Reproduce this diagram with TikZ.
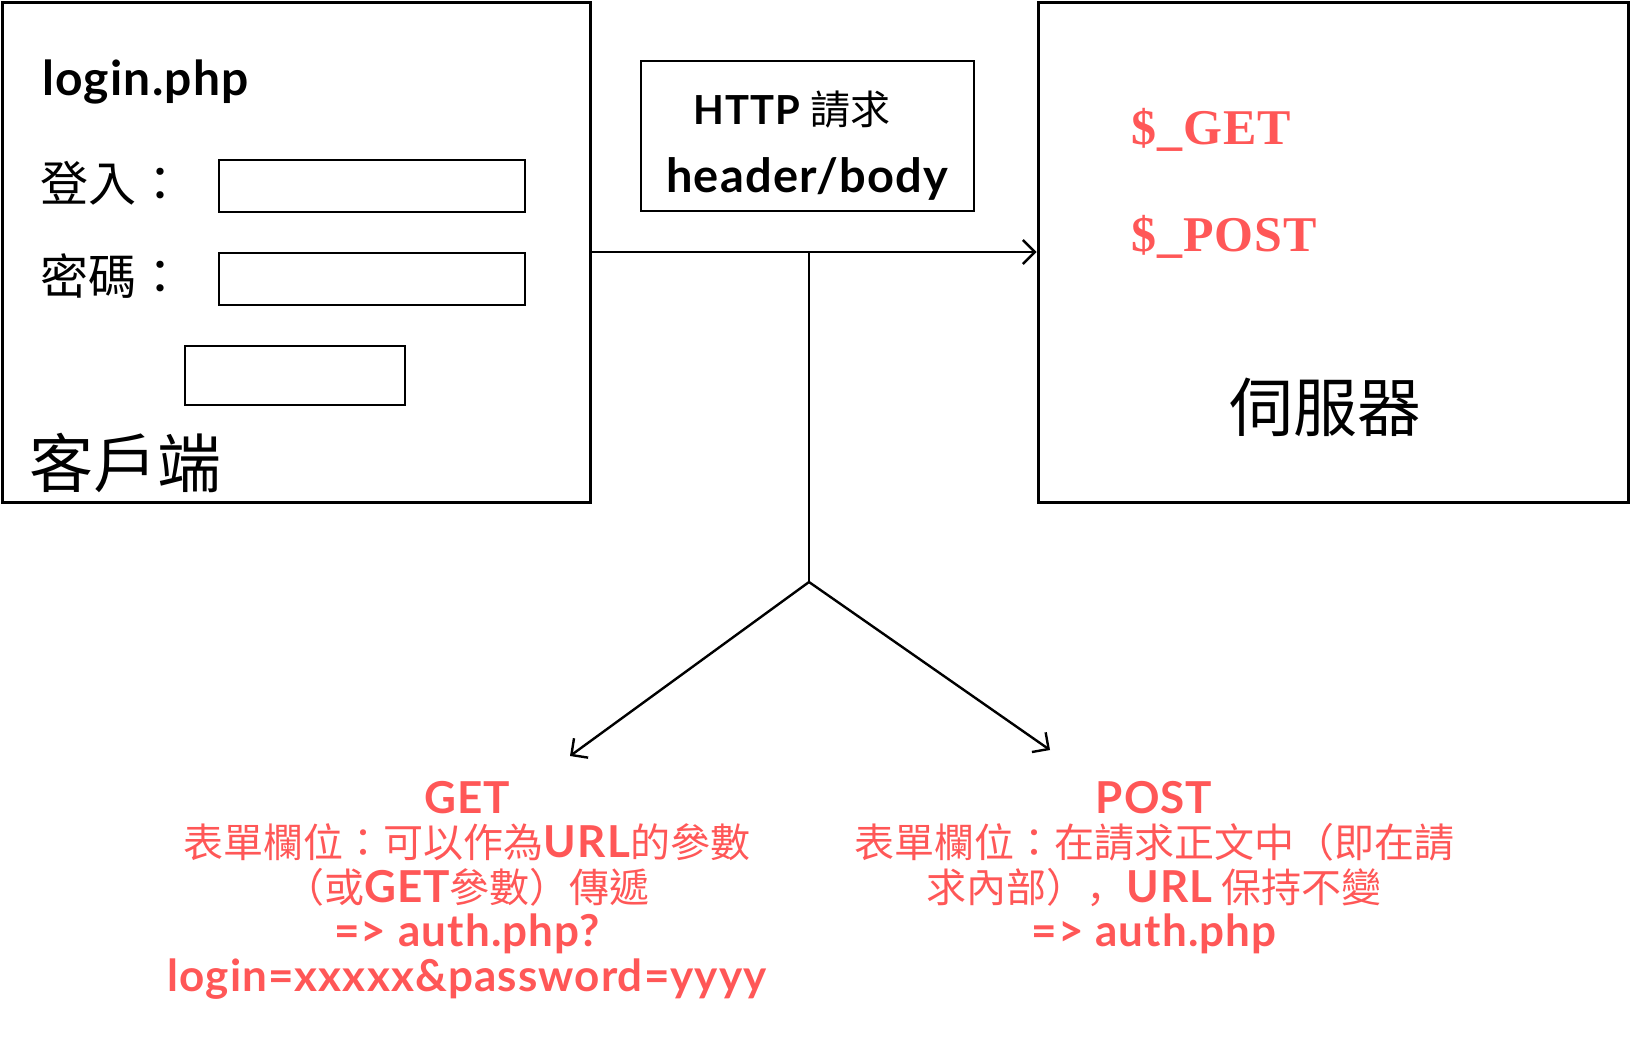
\documentclass[tikz,border=0pt]{standalone}
\usepackage{fontspec}
\setmainfont{Lato}[LetterSpace=2.5]
\newfontfamily\cjk{Noto Sans CJK TC}
\newfontfamily\cjkcomma{Noto Sans CJK SC}
\newfontfamily\serifbold{Liberation Serif}[LetterSpace=2]
\usepackage{tikz}
\usetikzlibrary{arrows.meta}
\definecolor{phpred}{RGB}{255,87,87}
\newcommand{\latb}[1]{{\normalfont\bfseries\fontsize{44}{44.5}\selectfont #1}}

\begin{document}
\begin{tikzpicture}[x=1pt, y=-1pt,
    panel/.style={draw, line width=3pt, minimum width=#1, minimum height=500pt, inner sep=0pt},
    field/.style={draw, line width=2.4pt, inner sep=0pt},
    formtext/.style={font=\cjk\fontsize{48}{50}\selectfont, inner sep=0pt},
    bigtext/.style={font=\cjk\fontsize{64}{66}\selectfont, inner sep=0pt},
    vartext/.style={font=\serifbold\bfseries\fontsize{50}{52}\selectfont, text=phpred, inner sep=0pt, anchor=west},
    note/.style={font=\cjk\fontsize{40}{44.5}\selectfont, text=phpred, align=center, inner sep=0pt, anchor=north},
    conn/.style={line width=2.4pt, -{Straight Barb[length=12pt, width=24pt, line width=2.4pt]}},
    trunk/.style={line width=2.4pt}]
    \useasboundingbox (0,0) rectangle (1630,1055);

    % Client (login form)
    \node[panel=588pt] (client) at (296,252) {};
    \node[font=\bfseries\fontsize{48}{50}\selectfont, inner sep=0pt, anchor=base west] (pagename) at (42,95) {login.php};
    \node[formtext, anchor=west] (userlabel) at (40,183) {登入：};
    \node[field, minimum width=306pt, minimum height=52pt] (userfield) at (372,186) {};
    \node[formtext, anchor=west] (pwlabel) at (40,276) {密碼：};
    \node[field, minimum width=306pt, minimum height=52pt] (pwfield) at (372,279) {};
    \node[field, minimum width=220pt, minimum height=59pt] (submitbtn) at (295,375.5) {};
    \node[bigtext, anchor=west] (clientname) at (29,463) {客戶端};

    % HTTP request
    \node[draw, line width=2.4pt, minimum width=333pt, minimum height=150pt, inner sep=0pt] (request) at (807.5,136) {};
    \node[inner sep=0pt] (reqtitle) at (792,110) {\bfseries\fontsize{40}{42}\selectfont HTTP {\cjk\mdseries 請求}};
    \node[font=\bfseries\fontsize{47}{49}\selectfont, inner sep=0pt] (reqparts) at (807,179) {header/body};

    % Server
    \node[panel=590pt] (server) at (1333,252) {};
    \node[vartext] (getvar) at (1131,130) {\$\_GET};
    \node[vartext] (postvar) at (1131,237) {\$\_POST};
    \node[bigtext] (servername) at (1325,407) {伺服器};

    % request goes to server, and splits into GET / POST
    \draw[conn] (client.east) -- (server.west);
    \coordinate (split) at (809,582);
    \coordinate (fork) at (split |- client.east);
    \coordinate (getend) at (570,756);
    \coordinate (postend) at (1050,750);
    \draw[trunk] (fork) -- (split);
    \draw[conn] (split) -- (getend);
    \draw[conn] (split) -- (postend);

    % GET / POST notes
    \node[note] (getnote) at (467,781) {\latb{GET}\\
        表單欄位：可以作為\latb{URL}的參數\\
        （或\latb{GET}參數）傳遞\\
        \latb{=> auth.php?}\\
        \latb{login=xxxxx\&password=yyyy}};
    \node[note] (postnote) at (1154,781) {\latb{POST}\\
        表單欄位：在請求正文中（即在請\\
        求內部）{\cjkcomma ，}\latb{URL} 保持不變\\
        \latb{=> auth.php}};
\end{tikzpicture}
\end{document}
